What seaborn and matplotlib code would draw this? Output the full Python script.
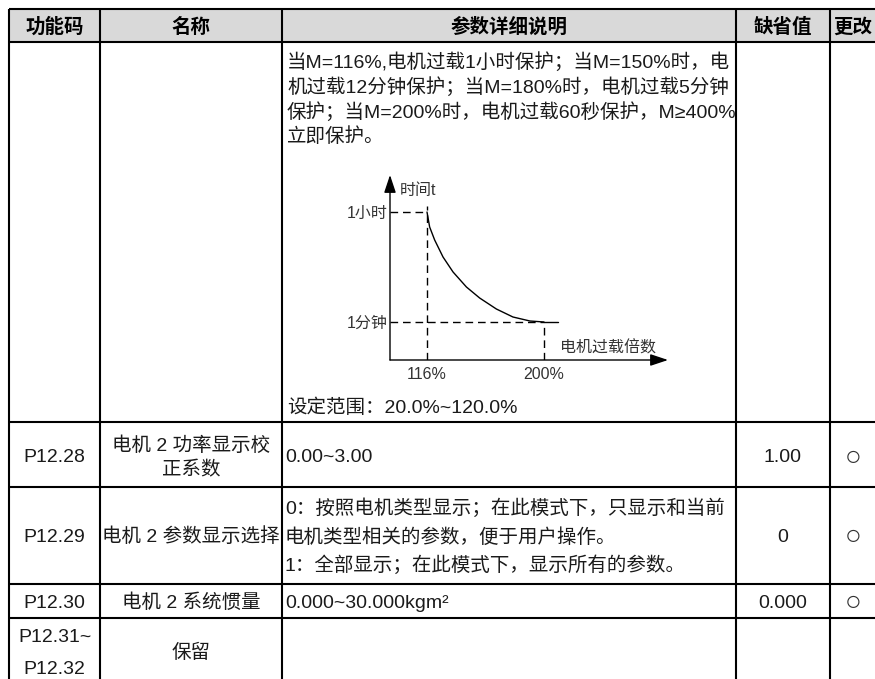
import matplotlib
matplotlib.use("Agg")
import matplotlib.pyplot as plt
import seaborn as sns
from matplotlib.patches import Rectangle, ArrowStyle

sns.set_style("white")
plt.rcParams["font.family"] = ["Liberation Sans", "Noto Sans CJK SC"]

# ---------------- table content ----------------
headers = ["功能码", "名称", "参数详细说明", "缺省值", "更改"]
codes = ["", "P12.28", "P12.29", "P12.30", "P12.31~\nP12.32"]
names = ["", "电机 2 功率显示校\n正系数", "电机 2 参数显示选择", "电机 2 系统惯量", "保留"]
desc_row1 = [
    "当M=116%,电机过载1小时保护；当M=150%时，电",
    "机过载12分钟保护；当M=180%时，电机过载5分钟",
    "保护；当M=200%时，电机过载60秒保护，M≥400%",
    "立即保护。",
]
range_text = "设定范围：20.0%~120.0%"
desc_p1228 = ["0.00~3.00"]
desc_p1229 = [
    "0：按照电机类型显示；在此模式下，只显示和当前",
    "电机类型相关的参数，便于用户操作。",
    "1：全部显示；在此模式下，显示所有的参数。",
]
desc_p1230 = ["0.000~30.000kgm²"]
defaults = ["", "1.00", "0", "0.000", ""]
changes = ["", "○", "○", "○", ""]

# ---------------- inset curve ----------------
load_pct = [116, 117.9, 121.5, 127.5, 134.7, 144.3, 153.8, 165.8, 177.7, 189.9, 200]
time_level = [148, 133, 120, 103, 88, 73, 62, 51, 43, 39, 38]
flat_pct = [200, 210]
flat_level = [38, 38]
tick_pct = [116, 200]
tick_pct_labels = ["116%", "200%"]
tick_level = [38, 148]
tick_level_labels = ["1分钟", "1小时"]
axis_y_label = "时间t"
axis_x_label = "电机过载倍数"

# ---------------- figure ----------------
W, H = 875, 679
fig = plt.figure(figsize=(W / 100, H / 100), dpi=100)
ax = fig.add_axes([0, 0, 1, 1])
ax.set_xlim(0, W)
ax.set_ylim(H, 0)
ax.axis("off")

col_edges = [8.7, 100.3, 282.3, 736.2, 829.7, 882]
row_edges = [8.7, 42, 421.7, 486.7, 584, 617.7, 690]
LW = 1.5
ax.add_patch(Rectangle((col_edges[0], row_edges[0]), col_edges[-1] - col_edges[0],
                       row_edges[1] - row_edges[0], fc="#d9d9d9", ec="none", zorder=0))
ax.hlines(row_edges, col_edges[0], col_edges[-1], color="black", lw=LW, zorder=2)
ax.vlines(col_edges, row_edges[0], row_edges[-1], color="black", lw=LW, zorder=2)

FS = 14
TC = "#1a1a1a"
col_centers = [(col_edges[i] + col_edges[i + 1]) / 2 for i in range(5)]
col_centers[4] = 853

# header
for cx, h in zip(col_centers, headers):
    ax.text(cx, 27, h, ha="center", va="center", fontsize=FS, fontweight="bold", color="black")

# row-wise text y positions (layout)
row_y = [None, 458, 537, 603, 653]
left_x = 285

def multi(x, yc, lines, spacing, ha):
    n = len(lines)
    for i, ln in enumerate(lines):
        y = yc + (i - (n - 1) / 2) * spacing
        ax.text(x, y, ln, ha=ha, va="center", fontsize=FS, color=TC)

for r in range(1, 5):
    yc = row_y[r]
    multi(col_centers[0], yc, codes[r].split("\n"), 32, "center")
    multi(col_centers[1], yc, names[r].split("\n"), 25, "center")
    ax.text(col_centers[3], yc, defaults[r], ha="center", va="center", fontsize=FS, color=TC)
    ax.text(col_centers[4], yc, changes[r], ha="center", va="center", fontsize=20,
            color="#333333")

multi(left_x, row_y[1], desc_p1228, 25, "left")
multi(left_x, row_y[2], desc_p1229, 28.5, "left")
multi(left_x, row_y[3], desc_p1230, 25, "left")

for i, ln in enumerate(desc_row1):
    ax.text(287, 62 + 25 * i, ln, ha="left", va="center", fontsize=FS, color=TC)
ax.text(287, 408, range_text, ha="left", va="center", fontsize=FS, color=TC)

# ---------------- inset chart ----------------
ox, tipx, oy, tipy = 390, 668, 360, 175
axc = fig.add_axes([ox / W, 1 - oy / H, (tipx - ox) / W, (oy - tipy) / H])
axc.patch.set_alpha(0)
scale = (544 - 427) / 84.0
xmin = 116 - (427 - ox) / scale
xmax = 200 + (tipx - 544) / scale
axc.set_xlim(xmin, xmax)
axc.set_ylim(0, oy - tipy)
for s in axc.spines.values():
    s.set_visible(False)

sns.lineplot(x=load_pct, y=time_level, ax=axc, color="black", lw=1.0)
sns.lineplot(x=flat_pct, y=flat_level, ax=axc, color="black", lw=1.0)

dash = (0, (5.5, 3.5))
axc.hlines(tick_level, xmin, tick_pct[::-1], colors="black", lw=1.0, linestyles=[dash])
axc.vlines(tick_pct, 0, [tick_level[1] + 6, tick_level[0]], colors="black", lw=1.0, linestyles=[dash])

astyle = ArrowStyle("-|>", head_length=0.6, head_width=0.2)
axc.annotate("", xy=(1, 0), xytext=(0, 0), xycoords="axes fraction",
             arrowprops=dict(arrowstyle=astyle, color="black", lw=1.0,
                             mutation_scale=18, shrinkA=0, shrinkB=0))
axc.annotate("", xy=(0, 1), xytext=(0, 0), xycoords="axes fraction",
             arrowprops=dict(arrowstyle=astyle, color="black", lw=1.0,
                             mutation_scale=18, shrinkA=0, shrinkB=0))

axc.set_xticks(tick_pct, tick_pct_labels)
axc.set_yticks(tick_level, tick_level_labels)
axc.tick_params(axis="both", length=0, labelsize=11.5, labelcolor="#333333")
axc.tick_params(axis="x", pad=5)
axc.tick_params(axis="y", pad=2)
axc.set_xlabel("")
axc.set_ylabel("")
axc.grid(False)
axc.text(10 / (tipx - ox), (oy - 191) / (oy - tipy), axis_y_label, transform=axc.transAxes,
         ha="left", va="center", fontsize=11.5, color="#333333")
axc.text((560 - ox) / (tipx - ox), (oy - 348) / (oy - tipy), axis_x_label, transform=axc.transAxes,
         ha="left", va="center", fontsize=11.5, color="#333333")

fig.savefig("out.png", dpi=100)
